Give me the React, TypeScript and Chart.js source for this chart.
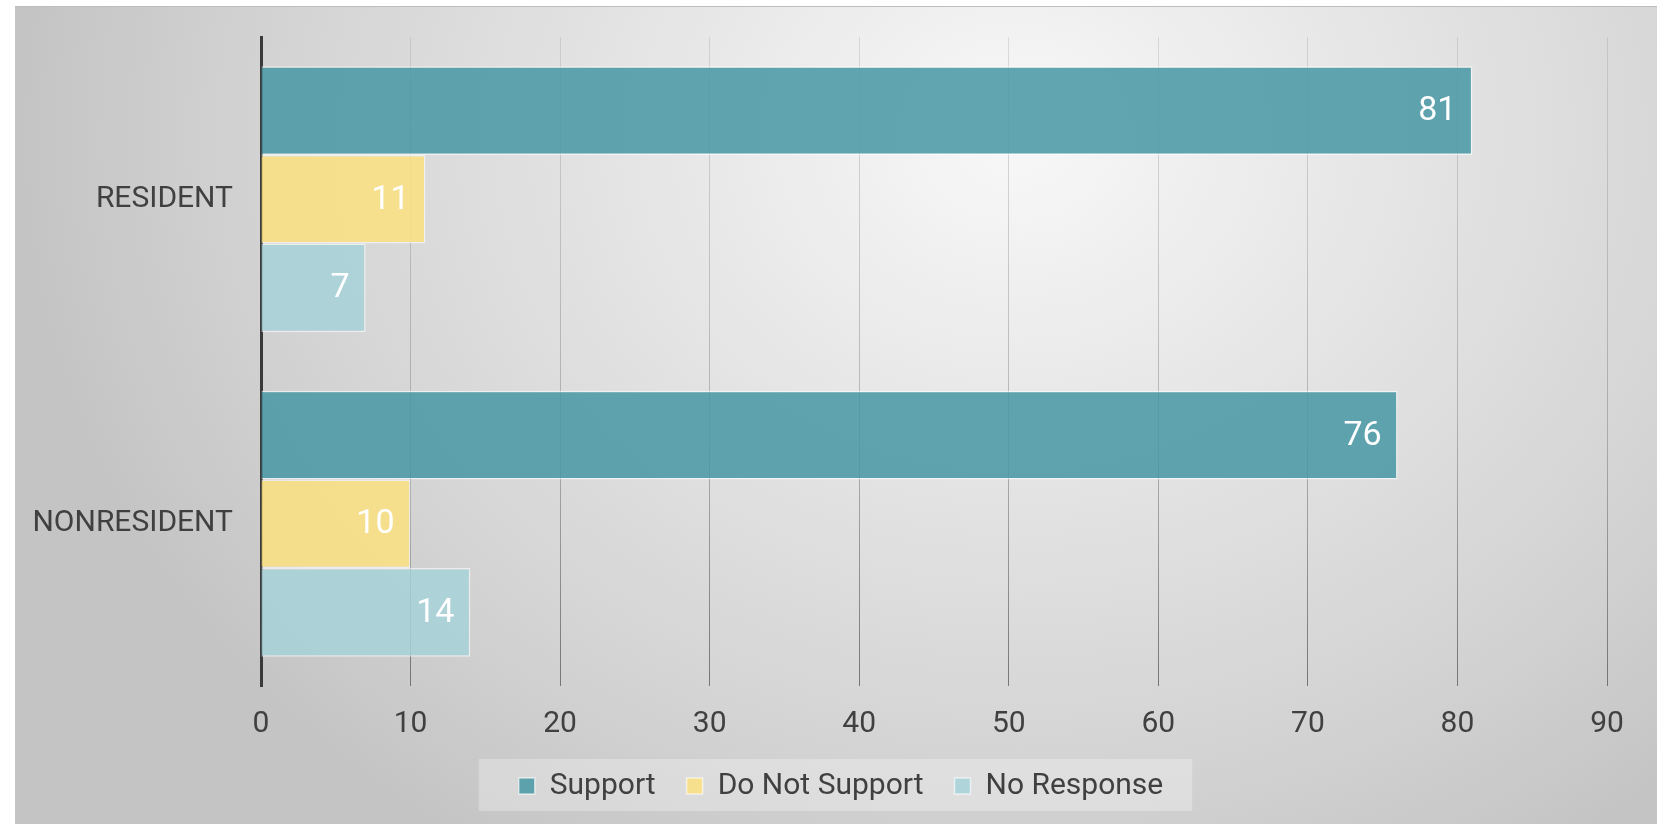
import React, { useEffect, useRef } from "react";
import { Chart, registerables } from "chart.js";

Chart.register(...registerables);

const categories = ["RESIDENT", "NONRESIDENT"];
const seriesNames = ["Support", "Do Not Support", "No Response"];
const supportValues = [81, 76];
const doNotSupportValues = [11, 10];
const noResponseValues = [7, 14];
const xMin = 0;
const xMax = 90;
const xStep = 10;

const seriesColors = [
  "rgba(71,151,164,0.86)",
  "rgba(250,225,128,0.86)",
  "rgba(166,211,218,0.86)",
];

const FONT = "Roboto";
const TEXT = "#404040";

const legendShiftPlugin = {
  id: "legendShift",
  afterLayout(chart: any) {
    const legend = chart.legend;
    if (!legend) return;
    legend.left += 30;
    legend.right += 30;
  },
};

const legendBgPlugin = {
  id: "legendBg",
  beforeDraw(chart: any) {
    const legend = chart.legend;
    if (!legend || !legend.legendHitBoxes || !legend.legendHitBoxes.length) return;
    const boxes = legend.legendHitBoxes;
    let l = Infinity, r = -Infinity, cy = 0;
    boxes.forEach((b: any) => {
      l = Math.min(l, b.left);
      r = Math.max(r, b.left + b.width);
      cy = b.top + b.height / 2;
    });
    const ctx = chart.ctx;
    ctx.save();
    ctx.fillStyle = "rgba(255,255,255,0.28)";
    ctx.fillRect(l - 40, cy - 27, r - l + 69, 52);
    ctx.restore();
  },
};

const dataLabelPlugin = {
  id: "dataLabels",
  afterDatasetsDraw(chart: any) {
    const ctx = chart.ctx;
    ctx.save();
    ctx.font = `34px ${FONT}`;
    ctx.fillStyle = "#ffffff";
    ctx.textAlign = "right";
    ctx.textBaseline = "middle";
    chart.data.datasets.forEach((ds: any, i: number) => {
      const meta = chart.getDatasetMeta(i);
      meta.data.forEach((el: any, j: number) => {
        ctx.fillText(String(ds.data[j]), el.x - 16, el.y + 1);
      });
    });
    ctx.restore();
  },
};

export default function App() {
  const ref = useRef<HTMLCanvasElement | null>(null);

  useEffect(() => {
    if (!ref.current) return;
    let gridGrad: any = null;
    const chart = new Chart(ref.current, {
      type: "bar",
      data: {
        labels: categories,
        datasets: [supportValues, doNotSupportValues, noResponseValues].map((vals, i) => ({
          label: seriesNames[i],
          data: vals,
          backgroundColor: seriesColors[i],
          borderColor: "rgba(255,255,255,0.6)",
          borderWidth: 1.5,
          categoryPercentage: 0.82,
          barPercentage: 1,
        })),
      },
      options: {
        indexAxis: "y",
        responsive: false,
        animation: false,
        layout: { padding: { top: 30, right: 50, left: 0, bottom: 14 } },
        plugins: {
          tooltip: { enabled: false },
          legend: {
            position: "bottom",
            labels: {
              font: { family: FONT, size: 30 },
              color: TEXT,
              boxWidth: 16,
              boxHeight: 16,
              padding: 31,
            },
          },
        },
        scales: {
          x: {
            type: "linear",
            min: xMin,
            max: xMax,
            ticks: {
              stepSize: xStep,
              font: { family: FONT, size: 30 },
              color: TEXT,
              padding: 20,
            },
            grid: {
              drawTicks: false,
              lineWidth: 1,
              color: (c: any) => {
                const ch = c.chart;
                const area = ch.chartArea;
                if (!area) return "rgba(140,140,140,0.5)";
                if (!gridGrad) {
                  gridGrad = ch.ctx.createLinearGradient(0, area.top, 0, area.bottom);
                  gridGrad.addColorStop(0, "rgba(130,130,130,0.22)");
                  gridGrad.addColorStop(0.6, "rgba(120,120,120,0.45)");
                  gridGrad.addColorStop(1, "rgba(100,100,100,0.85)");
                }
                return gridGrad;
              },
            },
            border: { display: false },
            afterFit: (scale: any) => {
              scale.height = 54;
            },
          },
          y: {
            type: "category",
            ticks: {
              font: { family: FONT, size: 30 },
              color: TEXT,
              padding: 28,
            },
            grid: { display: false, drawTicks: false },
            border: { display: true, color: "#3a3a3a", width: 3 },
            afterFit: (scale: any) => {
              scale.width = 246;
              scale.paddingTop = 0;
              scale.paddingBottom = 0;
            },
          },
        },
      },
      plugins: [legendShiftPlugin, legendBgPlugin, dataLabelPlugin],
    } as any);
    return () => chart.destroy();
  }, []);

  return (
    <div
      style={{
        position: "absolute",
        left: 15,
        top: 6,
        width: 1642,
        height: 818,
        borderTop: "1px solid #bdbdbd",
        background:
          "radial-gradient(ellipse 1000px 850px at 1000px 130px, #f8f8f8 0%, #e4e4e4 40%, #d3d3d3 75%, #c4c4c4 100%)",
      }}
    >
      <canvas ref={ref} width={1642} height={818} style={{ display: "block", width: 1642, height: 818 }} />
    </div>
  );
}
